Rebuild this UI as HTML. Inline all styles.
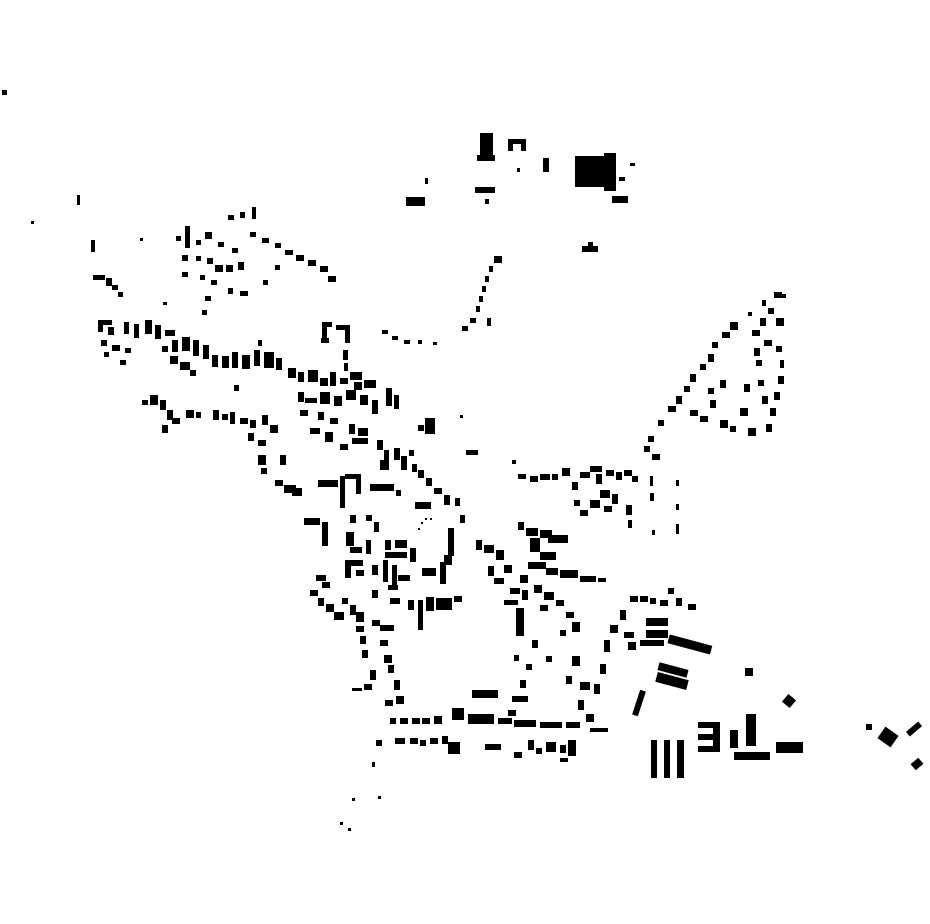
<!DOCTYPE html>
<html><head><meta charset="utf-8"><style>html,body{margin:0;padding:0;background:#fff}svg{display:block}</style></head>
<body>
<svg width="930" height="924" viewBox="0 0 930 924" xmlns="http://www.w3.org/2000/svg" fill="#000">
<!-- top cluster -->
<rect x="480" y="133" width="13" height="28"/><rect x="477" y="155" width="18" height="6"/>
<rect x="508" y="139" width="18" height="5"/><rect x="508" y="139" width="5" height="12"/><rect x="521" y="139" width="5" height="12"/>
<rect x="575" y="156" width="32" height="31"/><rect x="604" y="153" width="12" height="38"/>
<rect x="543" y="158" width="6" height="14"/><rect x="517" y="168" width="3" height="4"/>
<rect x="475" y="187" width="20" height="6"/><rect x="485" y="199" width="4" height="5"/>
<rect x="406" y="197" width="19" height="9"/><rect x="425" y="178" width="3" height="6"/>
<rect x="612" y="196" width="16" height="7"/><rect x="630" y="163" width="5" height="3"/><rect x="619" y="177" width="6" height="4"/>
<rect x="582" y="246" width="16" height="6"/><rect x="588" y="242" width="5" height="4"/>
<!-- chain from top down -->
<rect x="494" y="256" width="8" height="7"/><rect x="489" y="266" width="4" height="6"/><rect x="485" y="276" width="4" height="6"/>
<rect x="482" y="286" width="4" height="6"/><rect x="479" y="296" width="4" height="6"/><rect x="476" y="306" width="4" height="6"/>
<rect x="470" y="318" width="6" height="5"/><rect x="462" y="326" width="6" height="5"/><rect x="487" y="318" width="4" height="8"/>
<rect x="382" y="330" width="6" height="4"/><rect x="392" y="336" width="6" height="4"/><rect x="404" y="340" width="6" height="4"/><rect x="418" y="340" width="4" height="4"/><rect x="433" y="342" width="4" height="3"/>
<!-- far left -->
<rect x="2" y="90" width="5" height="5"/><rect x="77" y="195" width="3" height="10"/><rect x="31" y="221" width="3" height="3"/>
<rect x="91" y="240" width="4" height="12"/><rect x="140" y="238" width="3" height="3"/>
<!-- NW cluster -->
<rect x="228" y="215" width="6" height="5"/><rect x="240" y="212" width="5" height="6"/><rect x="252" y="207" width="4" height="12"/>
<rect x="185" y="226" width="5" height="22"/><rect x="176" y="236" width="5" height="5"/><rect x="205" y="232" width="7" height="7"/>
<rect x="196" y="240" width="5" height="5"/><rect x="218" y="242" width="6" height="5"/><rect x="232" y="248" width="6" height="5"/>
<rect x="182" y="255" width="6" height="6"/><rect x="196" y="256" width="5" height="5"/><rect x="207" y="258" width="6" height="6"/>
<rect x="215" y="265" width="8" height="7"/><rect x="226" y="265" width="7" height="7"/><rect x="238" y="262" width="6" height="8"/>
<rect x="182" y="272" width="6" height="5"/><rect x="200" y="275" width="5" height="5"/><rect x="211" y="280" width="6" height="5"/>
<rect x="228" y="288" width="5" height="6"/><rect x="240" y="291" width="8" height="5"/><rect x="263" y="280" width="5" height="5"/>
<rect x="205" y="296" width="6" height="5"/><rect x="202" y="310" width="5" height="5"/><rect x="163" y="302" width="4" height="3"/>
<rect x="250" y="232" width="6" height="5"/><rect x="262" y="238" width="7" height="5"/><rect x="275" y="243" width="6" height="5"/>
<rect x="285" y="250" width="8" height="5"/><rect x="296" y="255" width="8" height="6"/><rect x="308" y="260" width="8" height="6"/>
<rect x="320" y="266" width="8" height="6"/><rect x="328" y="276" width="8" height="6"/><rect x="275" y="265" width="5" height="5"/>
<rect x="93" y="275" width="12" height="5"/><rect x="106" y="278" width="6" height="8"/><rect x="112" y="285" width="6" height="5"/><rect x="118" y="292" width="5" height="5"/>
<!-- west main band -->
<rect x="98" y="320" width="14" height="5"/><rect x="98" y="320" width="5" height="12"/><rect x="108" y="327" width="6" height="8"/>
<rect x="101" y="340" width="6" height="6"/><rect x="112" y="345" width="8" height="6"/><rect x="104" y="352" width="5" height="5"/><rect x="125" y="348" width="6" height="5"/><rect x="120" y="360" width="6" height="5"/>
<rect x="124" y="322" width="5" height="12"/><rect x="134" y="324" width="5" height="14"/><rect x="145" y="320" width="7" height="14"/>
<rect x="155" y="325" width="6" height="14"/><rect x="165" y="330" width="10" height="6"/><rect x="172" y="340" width="6" height="12"/>
<rect x="182" y="337" width="8" height="14"/><rect x="193" y="340" width="6" height="16"/><rect x="203" y="345" width="6" height="14"/>
<rect x="162" y="346" width="6" height="6"/><rect x="170" y="356" width="8" height="8"/><rect x="180" y="362" width="10" height="8"/><rect x="190" y="370" width="6" height="6"/>
<rect x="212" y="355" width="6" height="12"/><rect x="222" y="356" width="7" height="12"/><rect x="232" y="352" width="6" height="16"/>
<rect x="242" y="355" width="8" height="14"/><rect x="254" y="350" width="6" height="16"/><rect x="264" y="352" width="10" height="16"/>
<rect x="276" y="358" width="6" height="12"/><rect x="258" y="340" width="4" height="6"/>
<rect x="288" y="368" width="8" height="10"/><rect x="298" y="372" width="6" height="10"/><rect x="308" y="370" width="10" height="12"/>
<rect x="320" y="378" width="8" height="8"/><rect x="330" y="372" width="6" height="14"/><rect x="340" y="378" width="8" height="6"/>
<rect x="350" y="372" width="12" height="8"/><rect x="354" y="382" width="8" height="8"/><rect x="364" y="380" width="12" height="8"/>
<rect x="322" y="322" width="10" height="5"/><rect x="322" y="322" width="5" height="20"/><rect x="336" y="325" width="14" height="5"/><rect x="345" y="325" width="5" height="18"/>
<rect x="343" y="350" width="5" height="10"/><rect x="344" y="363" width="4" height="8"/><rect x="321" y="338" width="8" height="5"/>
<!-- second row -->
<rect x="142" y="400" width="6" height="5"/><rect x="150" y="395" width="8" height="10"/><rect x="160" y="400" width="6" height="10"/>
<rect x="167" y="410" width="6" height="10"/><rect x="162" y="425" width="6" height="8"/><rect x="172" y="418" width="8" height="6"/>
<rect x="186" y="410" width="8" height="8"/><rect x="196" y="412" width="5" height="6"/><rect x="213" y="410" width="6" height="10"/>
<rect x="222" y="414" width="6" height="6"/><rect x="230" y="412" width="5" height="12"/><rect x="240" y="418" width="8" height="6"/>
<rect x="250" y="420" width="6" height="8"/><rect x="262" y="415" width="6" height="10"/><rect x="270" y="425" width="8" height="8"/>
<rect x="248" y="433" width="6" height="8"/><rect x="258" y="440" width="8" height="6"/><rect x="234" y="385" width="5" height="6"/>
<rect x="258" y="455" width="8" height="10"/><rect x="280" y="455" width="6" height="10"/><rect x="261" y="468" width="6" height="6"/>
<rect x="298" y="392" width="6" height="10"/><rect x="305" y="398" width="12" height="5"/><rect x="320" y="392" width="10" height="12"/>
<rect x="334" y="396" width="8" height="10"/><rect x="346" y="390" width="10" height="10"/><rect x="360" y="395" width="8" height="10"/>
<rect x="372" y="400" width="6" height="14"/><rect x="386" y="388" width="6" height="18"/><rect x="394" y="395" width="5" height="14"/>
<rect x="300" y="410" width="8" height="6"/><rect x="318" y="412" width="6" height="8"/><rect x="330" y="418" width="8" height="6"/>
<rect x="310" y="428" width="10" height="6"/><rect x="325" y="432" width="8" height="10"/><rect x="349" y="424" width="6" height="10"/>
<rect x="358" y="428" width="10" height="8"/><rect x="352" y="438" width="16" height="6"/><rect x="340" y="444" width="8" height="6"/>
<rect x="425" y="418" width="10" height="16"/><rect x="418" y="425" width="6" height="6"/><rect x="460" y="415" width="3" height="3"/>
<rect x="377" y="440" width="6" height="10"/><rect x="384" y="450" width="5" height="20"/><rect x="394" y="448" width="6" height="12"/>
<rect x="401" y="456" width="6" height="14"/><rect x="409" y="450" width="5" height="6"/><rect x="380" y="460" width="6" height="10"/>
<rect x="412" y="464" width="5" height="8"/><rect x="418" y="470" width="6" height="8"/><rect x="426" y="478" width="6" height="8"/>
<rect x="434" y="488" width="8" height="6"/><rect x="444" y="495" width="6" height="10"/><rect x="466" y="450" width="12" height="5"/>
<rect x="275" y="480" width="8" height="6"/><rect x="284" y="485" width="12" height="8"/><rect x="292" y="488" width="10" height="8"/>
<rect x="318" y="480" width="20" height="7"/><rect x="340" y="476" width="5" height="32"/><rect x="345" y="474" width="14" height="5"/>
<rect x="356" y="474" width="5" height="20"/><rect x="370" y="484" width="24" height="7"/><rect x="396" y="490" width="5" height="6"/>
<rect x="415" y="502" width="16" height="7"/><rect x="304" y="518" width="16" height="7"/><rect x="322" y="522" width="6" height="24"/>
<rect x="350" y="515" width="6" height="8"/><rect x="366" y="515" width="6" height="6"/><rect x="374" y="522" width="5" height="10"/>
<rect x="455" y="498" width="5" height="8"/><rect x="460" y="515" width="5" height="8"/>
<!-- central south -->
<rect x="346" y="532" width="8" height="14"/><rect x="350" y="547" width="12" height="6"/><rect x="366" y="540" width="5" height="14"/>
<rect x="385" y="540" width="6" height="10"/><rect x="395" y="540" width="12" height="8"/><rect x="385" y="552" width="22" height="6"/>
<rect x="345" y="560" width="18" height="6"/><rect x="345" y="560" width="6" height="18"/><rect x="356" y="570" width="8" height="6"/>
<rect x="372" y="565" width="6" height="10"/><rect x="383" y="560" width="5" height="22"/><rect x="392" y="565" width="5" height="24"/>
<rect x="398" y="575" width="12" height="6"/><rect x="410" y="548" width="6" height="14"/><rect x="422" y="568" width="14" height="8"/>
<rect x="440" y="562" width="6" height="22"/><rect x="448" y="528" width="6" height="28"/><rect x="444" y="555" width="8" height="10"/>
<rect x="418" y="528" width="2" height="2"/><rect x="421" y="522" width="2" height="2"/><rect x="425" y="518" width="2" height="2"/><rect x="430" y="518" width="2" height="2"/>
<rect x="408" y="600" width="6" height="10"/><rect x="418" y="600" width="5" height="30"/><rect x="426" y="597" width="8" height="14"/>
<rect x="436" y="598" width="16" height="12"/><rect x="454" y="596" width="8" height="6"/><rect x="390" y="598" width="10" height="6"/>
<rect x="388" y="585" width="10" height="5"/><rect x="372" y="590" width="6" height="8"/>
<rect x="316" y="575" width="10" height="6"/><rect x="322" y="582" width="8" height="6"/><rect x="310" y="590" width="8" height="6"/>
<rect x="318" y="598" width="6" height="8"/><rect x="326" y="604" width="8" height="8"/><rect x="334" y="612" width="10" height="8"/>
<rect x="342" y="598" width="6" height="6"/><rect x="350" y="605" width="6" height="10"/><rect x="356" y="612" width="8" height="10"/>
<rect x="356" y="626" width="8" height="6"/><rect x="360" y="636" width="6" height="8"/><rect x="372" y="620" width="8" height="6"/>
<rect x="380" y="625" width="14" height="6"/><rect x="380" y="640" width="8" height="6"/><rect x="362" y="650" width="6" height="8"/>
<rect x="384" y="655" width="8" height="8"/><rect x="388" y="665" width="6" height="8"/><rect x="394" y="680" width="6" height="10"/>
<rect x="370" y="670" width="6" height="10"/><rect x="364" y="684" width="8" height="6"/><rect x="352" y="688" width="10" height="3"/>
<rect x="396" y="696" width="8" height="8"/><rect x="385" y="700" width="8" height="6"/>
<!-- bottom strip -->
<rect x="390" y="718" width="6" height="6"/><rect x="400" y="718" width="8" height="6"/><rect x="412" y="718" width="8" height="6"/>
<rect x="422" y="718" width="8" height="6"/><rect x="434" y="716" width="8" height="8"/><rect x="452" y="708" width="12" height="12"/>
<rect x="468" y="714" width="26" height="10"/><rect x="472" y="690" width="26" height="8"/><rect x="498" y="718" width="14" height="6"/>
<rect x="514" y="720" width="22" height="7"/><rect x="540" y="722" width="22" height="6"/><rect x="566" y="722" width="14" height="6"/>
<rect x="590" y="728" width="18" height="4"/><rect x="512" y="696" width="16" height="6"/><rect x="508" y="710" width="8" height="6"/>
<rect x="395" y="738" width="10" height="6"/><rect x="410" y="738" width="8" height="6"/><rect x="420" y="740" width="6" height="6"/>
<rect x="430" y="738" width="8" height="6"/><rect x="442" y="736" width="6" height="8"/><rect x="448" y="742" width="12" height="12"/>
<rect x="376" y="740" width="6" height="6"/><rect x="485" y="744" width="16" height="6"/><rect x="514" y="752" width="8" height="6"/>
<rect x="528" y="740" width="6" height="10"/><rect x="536" y="748" width="6" height="6"/><rect x="546" y="742" width="10" height="10"/>
<rect x="560" y="745" width="6" height="8"/><rect x="568" y="740" width="8" height="16"/><rect x="560" y="758" width="8" height="4"/>
<rect x="372" y="762" width="3" height="5"/><rect x="378" y="796" width="3" height="3"/><rect x="352" y="798" width="3" height="3"/>
<rect x="340" y="822" width="3" height="3"/><rect x="348" y="828" width="3" height="3"/>
<!-- middle-east region -->
<rect x="476" y="540" width="6" height="10"/><rect x="484" y="545" width="10" height="8"/><rect x="496" y="550" width="8" height="10"/>
<rect x="504" y="565" width="8" height="8"/><rect x="488" y="566" width="6" height="10"/><rect x="494" y="578" width="10" height="6"/>
<rect x="518" y="522" width="6" height="8"/><rect x="526" y="528" width="12" height="8"/><rect x="530" y="538" width="10" height="14"/>
<rect x="540" y="530" width="12" height="8"/><rect x="548" y="535" width="20" height="8"/><rect x="540" y="552" width="16" height="8"/>
<rect x="528" y="562" width="18" height="7"/><rect x="546" y="568" width="12" height="7"/><rect x="560" y="570" width="18" height="8"/>
<rect x="580" y="576" width="16" height="6"/><rect x="598" y="578" width="8" height="4"/><rect x="520" y="575" width="8" height="8"/>
<rect x="510" y="588" width="10" height="6"/><rect x="522" y="590" width="6" height="10"/><rect x="534" y="585" width="8" height="8"/>
<rect x="544" y="592" width="10" height="8"/><rect x="556" y="600" width="8" height="6"/><rect x="504" y="600" width="14" height="5"/>
<rect x="516" y="608" width="8" height="28"/><rect x="540" y="605" width="8" height="6"/><rect x="566" y="612" width="8" height="6"/>
<rect x="572" y="622" width="8" height="10"/><rect x="560" y="630" width="6" height="6"/><rect x="532" y="640" width="6" height="8"/>
<rect x="546" y="656" width="6" height="6"/><rect x="514" y="655" width="5" height="6"/><rect x="526" y="664" width="6" height="6"/>
<rect x="520" y="680" width="6" height="8"/><rect x="572" y="656" width="8" height="10"/><rect x="566" y="676" width="6" height="8"/>
<rect x="580" y="682" width="10" height="8"/><rect x="578" y="700" width="6" height="10"/><rect x="586" y="714" width="8" height="8"/>
<rect x="594" y="684" width="6" height="10"/><rect x="600" y="664" width="6" height="10"/><rect x="604" y="640" width="6" height="12"/>
<rect x="610" y="625" width="8" height="8"/><rect x="620" y="610" width="6" height="10"/><rect x="630" y="596" width="8" height="6"/>
<rect x="640" y="596" width="8" height="6"/><rect x="650" y="598" width="6" height="6"/><rect x="660" y="600" width="8" height="6"/>
<rect x="668" y="588" width="6" height="6"/><rect x="676" y="598" width="6" height="8"/><rect x="688" y="604" width="8" height="6"/>
<rect x="624" y="632" width="10" height="6"/><rect x="628" y="642" width="8" height="8"/>
<!-- east industrial -->
<rect x="646" y="618" width="22" height="8"/><rect x="646" y="630" width="22" height="8"/><rect x="640" y="640" width="24" height="6"/>
<rect x="668" y="640" width="44" height="9" transform="rotate(15 690 644)"/><rect x="658" y="666" width="30" height="8" transform="rotate(15 673 670)"/>
<rect x="656" y="676" width="32" height="10" transform="rotate(15 672 681)"/><rect x="636" y="690" width="6" height="26" transform="rotate(18 639 703)"/>
<rect x="745" y="668" width="8" height="8"/><rect x="784" y="696" width="10" height="10" transform="rotate(40 789 701)"/>
<rect x="651" y="740" width="6" height="38"/><rect x="664" y="740" width="6" height="38"/><rect x="677" y="740" width="7" height="38"/>
<rect x="698" y="722" width="22" height="6"/><rect x="698" y="734" width="16" height="6"/><rect x="698" y="746" width="20" height="6"/><rect x="713" y="722" width="7" height="30"/>
<rect x="730" y="730" width="8" height="18"/><rect x="746" y="714" width="10" height="32"/><rect x="734" y="752" width="36" height="8"/>
<rect x="776" y="742" width="27" height="11"/>
<rect x="866" y="724" width="6" height="6"/><rect x="880" y="730" width="16" height="14" transform="rotate(35 888 737)"/>
<rect x="906" y="726" width="16" height="6" transform="rotate(-40 914 729)"/><rect x="912" y="760" width="10" height="8" transform="rotate(-40 917 764)"/>
<!-- north-east arc -->
<rect x="512" y="460" width="4" height="4"/><rect x="518" y="474" width="8" height="5"/><rect x="530" y="476" width="8" height="6"/>
<rect x="540" y="474" width="10" height="6"/><rect x="552" y="474" width="6" height="6"/><rect x="562" y="468" width="8" height="8"/>
<rect x="572" y="482" width="6" height="8"/><rect x="580" y="472" width="10" height="6"/><rect x="590" y="466" width="12" height="6"/>
<rect x="596" y="474" width="6" height="10"/><rect x="606" y="470" width="8" height="6"/><rect x="616" y="472" width="6" height="8"/>
<rect x="624" y="470" width="8" height="6"/><rect x="632" y="476" width="6" height="6"/><rect x="600" y="490" width="10" height="8"/>
<rect x="590" y="500" width="10" height="8"/><rect x="604" y="506" width="8" height="6"/><rect x="612" y="494" width="6" height="10"/>
<rect x="574" y="500" width="6" height="6"/><rect x="580" y="510" width="8" height="6"/><rect x="626" y="505" width="6" height="10"/>
<rect x="628" y="520" width="4" height="8"/><rect x="650" y="476" width="3" height="10"/><rect x="650" y="493" width="4" height="8"/>
<rect x="652" y="530" width="3" height="5"/><rect x="676" y="480" width="3" height="6"/><rect x="676" y="504" width="3" height="6"/><rect x="676" y="524" width="3" height="10"/>
<rect x="644" y="446" width="6" height="6"/><rect x="652" y="454" width="8" height="6"/><rect x="648" y="436" width="6" height="6"/>
<rect x="658" y="420" width="6" height="6"/><rect x="668" y="406" width="8" height="6"/><rect x="676" y="396" width="6" height="8"/>
<rect x="684" y="386" width="6" height="6"/><rect x="690" y="374" width="6" height="8"/><rect x="700" y="364" width="6" height="6"/>
<rect x="708" y="354" width="6" height="8"/><rect x="712" y="342" width="6" height="6"/><rect x="722" y="332" width="8" height="6"/>
<rect x="730" y="322" width="8" height="8"/><rect x="690" y="410" width="8" height="6"/><rect x="700" y="416" width="8" height="6"/>
<rect x="710" y="400" width="6" height="8"/><rect x="720" y="380" width="6" height="8"/><rect x="708" y="388" width="6" height="6"/>
<rect x="720" y="420" width="8" height="8"/><rect x="730" y="426" width="6" height="6"/><rect x="740" y="408" width="8" height="8"/>
<rect x="748" y="428" width="8" height="8"/><rect x="744" y="384" width="6" height="8"/><rect x="758" y="380" width="6" height="6"/>
<rect x="762" y="396" width="6" height="8"/><rect x="766" y="424" width="6" height="8"/><rect x="770" y="408" width="6" height="8"/>
<rect x="774" y="392" width="6" height="8"/><rect x="778" y="376" width="6" height="8"/><rect x="780" y="360" width="4" height="8"/>
<rect x="776" y="346" width="6" height="6"/><rect x="764" y="340" width="8" height="6"/><rect x="754" y="348" width="6" height="8"/>
<rect x="756" y="360" width="6" height="6"/><rect x="752" y="330" width="8" height="6"/><rect x="760" y="318" width="6" height="8"/>
<rect x="768" y="308" width="6" height="6"/><rect x="776" y="318" width="8" height="8"/><rect x="774" y="292" width="8" height="6"/>
<rect x="780" y="294" width="6" height="4"/><rect x="762" y="300" width="4" height="6"/><rect x="748" y="312" width="4" height="4"/>
</svg>
</body></html>
